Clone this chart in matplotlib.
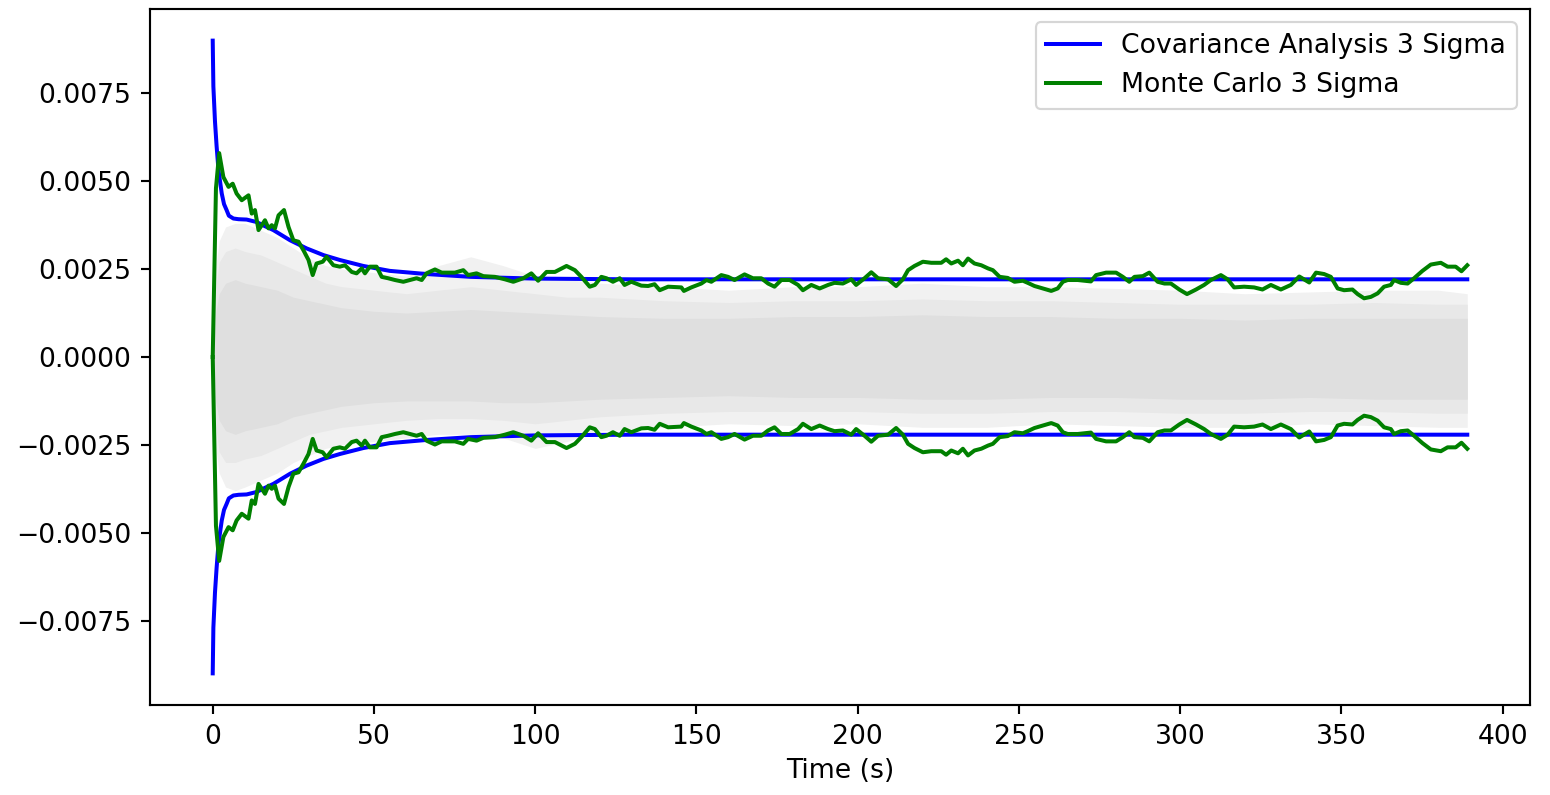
import numpy as np
import matplotlib
matplotlib.use("Agg")
import matplotlib.pyplot as plt

# ---- data (values in units of 1e-3) ----
cov_t = [0, 0.2, 0.7, 1.2, 1.8, 2.8, 3.5, 4.3, 5.0, 6.4, 8.0, 10.5, 13.6, 16.0, 18.8,
         24.0, 29.1, 34.3, 39.4, 46.7, 54.9, 66.3, 80.0, 100.0, 130.0, 389.0]
cov_v = [9.0, 7.7, 6.7, 6.0, 5.3, 4.65, 4.35, 4.18, 4.02, 3.94, 3.92, 3.91, 3.84, 3.73, 3.61,
         3.32, 3.09, 2.90, 2.76, 2.59, 2.45, 2.36, 2.28, 2.23, 2.21, 2.21]

mc_t = [0, 1, 2, 3.3, 4.9, 6.2, 7.4, 9.0, 11.1, 12.1, 13.1, 14.2, 16.2, 17.3, 18.3, 19.3,
        20.4, 22.1, 23.5, 25.0, 26.6, 28.1, 29.7, 31.0, 32.2, 34.1, 35.3, 37.4, 39.4, 41.0,
        43.1, 44.6, 46.2, 47.2, 48.7, 50.8, 52.4, 54.4, 56.5, 59.1, 61.1, 63.2, 64.8, 66.3,
        68.9, 71.0, 75.1, 77.7, 79.2, 81.8, 83.9, 87.5, 90.6, 93.2, 96.3, 98.8, 100.9, 103.5,
        106.1, 109.7, 112.3, 114.3, 116.9, 118.5, 120.5, 122.1, 124.1, 126.2, 127.7, 129.8,
        132.9, 135.0, 137.0, 138.6, 141.2, 145.3, 146.1, 148.4, 151.5, 153.1, 154.6, 157.7,
        159.8, 161.8, 164.9, 167.5, 170.1, 172.2, 174.2, 176.3, 178.9, 181.5, 183.0, 185.6,
        188.2, 190.8, 192.8, 195.4, 198.0, 199.5, 202.1, 204.2, 206.3, 209.4, 211.9, 214.0,
        215.6, 217.6, 220.2, 222.8, 225.9, 227.4, 229.0, 231.1, 232.6, 234.2, 236.2, 238.3,
        240.4, 241.9, 244.0, 246.5, 248.6, 251.2, 252.7, 254.8, 257.4, 260.0, 262.0, 263.6,
        265.1, 268.2, 272.3, 273.9, 277.0, 280.1, 282.2, 284.2, 285.8, 288.4, 290.4, 293.0,
        295.1, 297.1, 299.7, 302.1, 304.9, 307.4, 309.5, 312.6, 314.7, 316.7, 319.8, 322.9,
        325.5, 328.1, 331.2, 334.3, 336.9, 340.0, 342.1, 344.6, 346.7, 348.8, 350.8, 353.4,
        355.0, 357.0, 359.1, 361.2, 363.2, 365.3, 366.3, 368.4, 370.5, 372.5, 375.1, 377.7,
        380.8, 382.9, 385.4, 387.2, 389.0]
mc_v = [0, 4.8, 5.8, 5.12, 4.84, 4.93, 4.65, 4.46, 4.60, 4.08, 4.18, 3.61, 3.89, 3.66, 3.75, 3.66,
        4.03, 4.18, 3.70, 3.32, 3.28, 3.04, 2.76, 2.33, 2.66, 2.71, 2.85, 2.61, 2.57, 2.61,
        2.42, 2.38, 2.52, 2.38, 2.57, 2.57, 2.28, 2.24, 2.19, 2.14, 2.19, 2.24, 2.19, 2.38,
        2.49, 2.40, 2.40, 2.47, 2.33, 2.38, 2.30, 2.28, 2.21, 2.14, 2.24, 2.38, 2.17, 2.42,
        2.42, 2.59, 2.47, 2.28, 2.00, 2.05, 2.28, 2.24, 2.14, 2.24, 2.05, 2.14,
        2.03, 2.02, 2.07, 1.90, 2.00, 1.98, 1.88, 1.98, 2.09, 2.19, 2.14, 2.33,
        2.28, 2.19, 2.35, 2.24, 2.24, 2.09, 2.00, 2.19, 2.19, 2.05, 1.90, 2.05,
        1.95, 2.05, 2.11, 2.09, 2.21, 2.05, 2.24, 2.41, 2.24, 2.21, 2.02, 2.21,
        2.47, 2.59, 2.71, 2.68, 2.68, 2.78, 2.66, 2.74, 2.61, 2.80, 2.66, 2.61,
        2.52, 2.47, 2.28, 2.25, 2.14, 2.17, 2.11, 2.02, 1.95, 1.88, 1.95, 2.14,
        2.19, 2.19, 2.15, 2.33, 2.40, 2.40, 2.28, 2.14, 2.28, 2.30, 2.40, 2.14,
        2.09, 2.09, 1.92, 1.79, 1.92, 2.05, 2.19, 2.33, 2.21, 1.98, 2.00, 1.98,
        1.92, 2.05, 1.92, 2.05, 2.29, 2.12, 2.40, 2.36, 2.28, 1.95, 1.90, 1.92,
        1.79, 1.67, 1.71, 1.81, 2.00, 2.05, 2.19, 2.11, 2.09, 2.24, 2.45, 2.63,
        2.68, 2.57, 2.57, 2.44, 2.61]

# spread of the individual Monte Carlo runs (gray cloud), outer / middle / core
env_t = [0, 1, 2, 4, 7, 10, 15, 20, 25, 30, 35, 40, 50, 60, 70, 80, 90, 100, 110, 120,
         140, 160, 180, 200, 220, 240, 260, 280, 300, 320, 340, 360, 380, 389]
outer_up = [0, 2.6, 3.3, 3.7, 3.8, 3.8, 3.6, 3.4, 3.1, 2.8, 2.6, 2.5, 2.4, 2.3, 2.6, 2.85, 2.6,
            2.3, 2.2, 2.1, 2.0, 1.9, 2.0, 2.0, 2.1, 2.0, 2.0, 1.95, 1.9, 1.8, 1.85, 1.9, 1.9, 1.8]
outer_lo = [0, -2.6, -3.3, -3.7, -3.8, -3.7, -3.5, -3.3, -3.0, -2.8, -2.6, -2.5, -2.4, -2.3,
            -2.2, -2.2, -2.3, -2.6, -2.4, -2.1, -2.0, -1.9, -1.95, -1.9, -2.0, -2.0, -1.9,
            -1.95, -2.0, -2.0, -1.9, -1.95, -2.0, -2.0]
mid_up = [0, 2.0, 2.7, 3.0, 3.1, 3.0, 2.9, 2.7, 2.5, 2.3, 2.1, 2.0, 1.9, 1.8, 1.9, 2.0, 1.9,
          1.8, 1.7, 1.7, 1.6, 1.55, 1.6, 1.6, 1.65, 1.6, 1.6, 1.55, 1.5, 1.5, 1.5, 1.55, 1.5, 1.5]
mid_lo = [0, -2.0, -2.7, -3.0, -3.0, -2.9, -2.8, -2.6, -2.4, -2.2, -2.1, -2.0, -1.9, -1.8,
          -1.75, -1.75, -1.8, -1.9, -1.8, -1.7, -1.6, -1.55, -1.55, -1.55, -1.6, -1.6, -1.55,
          -1.55, -1.6, -1.6, -1.55, -1.55, -1.6, -1.6]
core_up = [0, 1.3, 1.8, 2.1, 2.2, 2.1, 2.0, 1.9, 1.7, 1.6, 1.5, 1.4, 1.3, 1.25, 1.3, 1.35, 1.3,
           1.25, 1.2, 1.15, 1.1, 1.1, 1.15, 1.15, 1.2, 1.15, 1.15, 1.1, 1.1, 1.05, 1.1, 1.1, 1.1, 1.1]
core_lo = [0, -1.3, -1.8, -2.1, -2.2, -2.1, -2.0, -1.9, -1.7, -1.6, -1.5, -1.4, -1.3, -1.25,
           -1.25, -1.25, -1.3, -1.3, -1.25, -1.2, -1.15, -1.1, -1.15, -1.15, -1.2, -1.2, -1.15,
           -1.15, -1.2, -1.2, -1.15, -1.2, -1.2, -1.2]

scale = 1e-3
k = 1.24  # size factor of the reference rendering

plt.rcParams.update({
    'font.size': 10 * k,
    'axes.linewidth': 0.8 * k,
    'xtick.major.width': 0.8 * k,
    'ytick.major.width': 0.8 * k,
    'xtick.major.size': 3.5 * k,
    'ytick.major.size': 3.5 * k,
    'xtick.major.pad': 3.5 * k,
    'ytick.major.pad': 3.5 * k,
    'legend.fontsize': 10 * k,
})

fig = plt.figure(figsize=(1550 / 155, 795 / 155), dpi=155)
ax = fig.add_axes([150 / 1550, 1 - 705 / 795, 1380 / 1550, 696 / 795])

et = np.array(env_t)
for up, lo, col in [(outer_up, outer_lo, '#f1f1f1'),
                    (mid_up, mid_lo, '#e8e8e8'),
                    (core_up, core_lo, '#dfdfdf')]:
    ax.fill_between(et, np.array(lo) * scale, np.array(up) * scale,
                    color=col, linewidth=0, zorder=1)

ct = np.array(cov_t)
cv = np.array(cov_v) * scale
mt = np.array(mc_t)
mv = np.array(mc_v) * scale

lw = 1.5 * k
ax.plot(ct, cv, color='b', lw=lw, label='Covariance Analysis 3 Sigma', zorder=3)
ax.plot(ct, -cv, color='b', lw=lw, zorder=3)
ax.plot(mt, mv, color='g', lw=lw, label='Monte Carlo 3 Sigma', zorder=4)
ax.plot(mt, -mv, color='g', lw=lw, zorder=4)

ax.set_xticks([0, 50, 100, 150, 200, 250, 300, 350, 400])
ax.set_yticks([-0.0075, -0.005, -0.0025, 0, 0.0025, 0.005, 0.0075])
ax.set_xlabel('Time (s)')
ax.legend(loc='upper right')

fig.savefig('out.png', dpi=155)
